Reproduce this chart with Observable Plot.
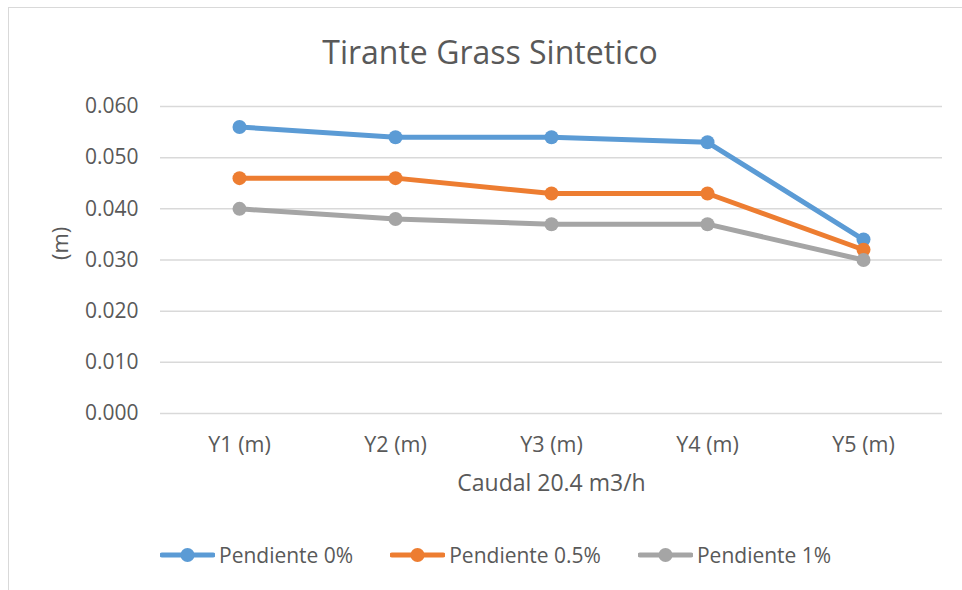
<!DOCTYPE html>
<html><head><meta charset="utf-8">
<script src="https://cdn.jsdelivr.net/npm/d3@7"></script>
<script src="https://cdn.jsdelivr.net/npm/@observablehq/plot@0.6"></script>
<style>
body{margin:0;background:#fff;font-family:"Open Sans",sans-serif;}
#wrap{position:relative;width:962px;height:590px;overflow:hidden;background:#fff}
#frame{position:absolute;left:8px;top:7px;width:980px;height:610px;border:1px solid #d9d9d9;box-sizing:border-box}
#title{position:absolute;left:8px;width:964px;top:30px;text-align:center;font-size:32px;color:#595959;line-height:44px}
#chart{position:absolute;left:0;top:0}
#legend{position:absolute;left:160px;top:542px;display:flex;gap:37px;align-items:center;font-size:21px;color:#595959;line-height:26px}
.item{display:flex;align-items:center;gap:4px}
</style></head>
<body>
<div id="wrap">
<div id="frame"></div>
<div id="chart"></div>
<div id="title"></div>
<div id="legend"></div>
</div>
<script>
const titleText = "Tirante Grass Sintetico";
const yLabel = "(m)";
const xLabel = "Caudal 20.4 m3/h";
const categories = ["Y1 (m)", "Y2 (m)", "Y3 (m)", "Y4 (m)", "Y5 (m)"];
const seriesNames = ["Pendiente 0%", "Pendiente 0.5%", "Pendiente 1%"];
const pendiente0 = [0.056, 0.054, 0.054, 0.053, 0.034];
const pendiente05 = [0.046, 0.046, 0.043, 0.043, 0.032];
const pendiente1 = [0.040, 0.038, 0.037, 0.037, 0.030];
const yTicks = [0, 0.01, 0.02, 0.03, 0.04, 0.05, 0.06];
const colors = ["#5B9BD5", "#ED7D31", "#A5A5A5"];

const seriesValues = [pendiente0, pendiente05, pendiente1];
const data = [];
seriesNames.forEach((s, i) => categories.forEach((c, j) => data.push({series: s, cat: c, value: seriesValues[i][j]})));

document.getElementById("title").textContent = titleText;

const marks = [
  Plot.gridY(yTicks, {stroke: "#d9d9d9", strokeOpacity: 1, strokeWidth: 1.5}),
  Plot.axisY(yTicks, {tickSize: 0, tickPadding: 22, tickFormat: d3.format(".3f"), label: null, fill: "#595959", fontSize: 21}),
  Plot.axisX({tickSize: 0, tickPadding: 23, label: null, fill: "#595959", fontSize: 21.5}),
  Plot.text([yLabel], {frameAnchor: "left", dx: -100, rotate: -90, fontSize: 22, fill: "#595959", lineAnchor: "middle"}),
  Plot.text([xLabel], {frameAnchor: "bottom", dy: 70, fontSize: 23, fill: "#595959", lineAnchor: "middle"})
];
seriesNames.forEach((s) => {
  const d = data.filter(r => r.series === s);
  marks.push(Plot.line(d, {x: "cat", y: "value", stroke: "series", strokeWidth: 5}));
  marks.push(Plot.dot(d, {x: "cat", y: "value", fill: "series", r: 7}));
});

const chart = Plot.plot({
  width: 962, height: 590,
  marginTop: 106, marginBottom: 177, marginLeft: 160, marginRight: 20,
  style: {fontFamily: "Open Sans", fontSize: "21px", color: "#595959", background: "transparent"},
  x: {type: "point", domain: categories, padding: 0.5},
  y: {domain: [0, 0.06]},
  color: {domain: seriesNames, range: colors},
  marks
});
document.getElementById("chart").appendChild(chart);

const legend = d3.select("#legend");
seriesNames.forEach((s, i) => {
  const it = legend.append("div").attr("class", "item");
  const sv = it.append("svg").attr("width", 55).attr("height", 16);
  sv.append("line").attr("x1", 2).attr("x2", 53).attr("y1", 8).attr("y2", 8).attr("stroke", colors[i]).attr("stroke-width", 5).attr("stroke-linecap", "round");
  sv.append("circle").attr("cx", 27.5).attr("cy", 8).attr("r", 7).attr("fill", colors[i]);
  it.append("span").text(s);
});
</script>
</body></html>
